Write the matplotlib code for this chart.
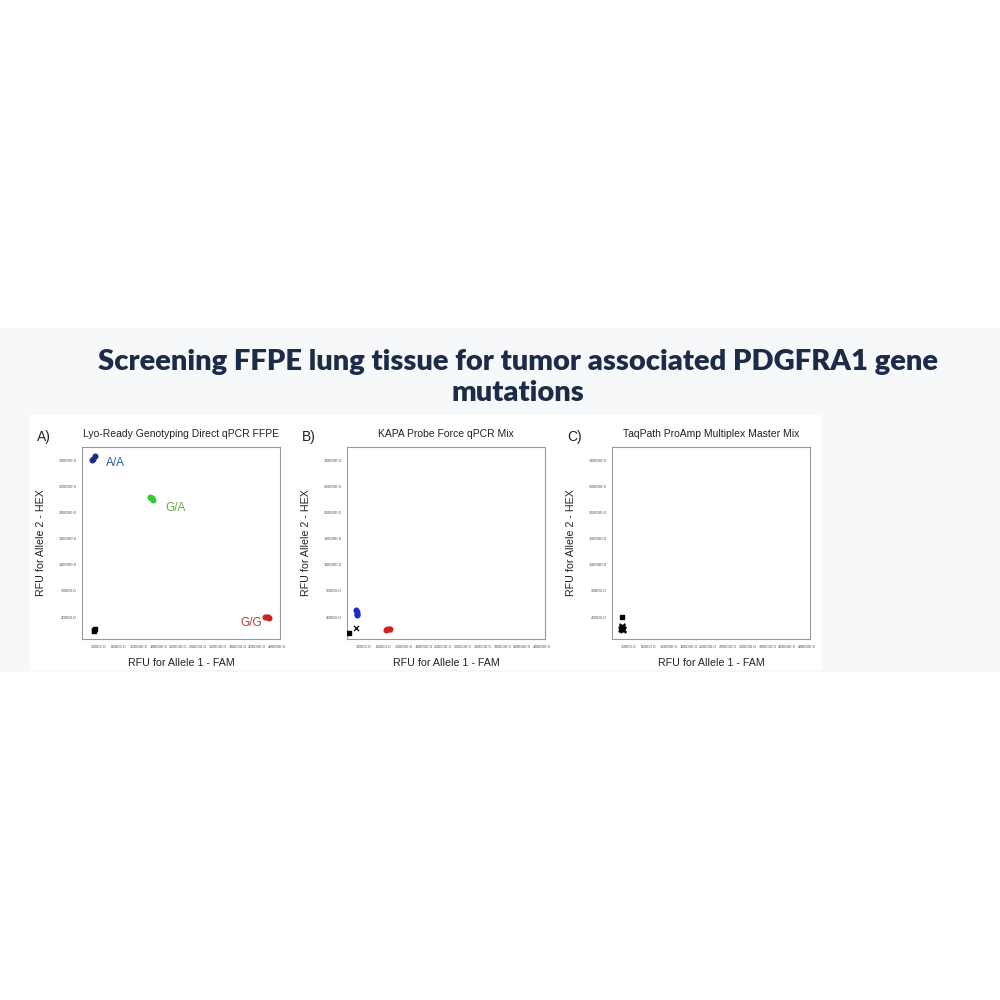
import matplotlib
matplotlib.use("Agg")
import matplotlib.pyplot as plt
from matplotlib.patches import Rectangle

# ---- data ----
panel_letters = ["A)", "B)", "C)"]
panel_titles = ["Lyo-Ready Genotyping Direct qPCR FFPE",
                "KAPA Probe Force qPCR Mix",
                "TaqPath ProAmp Multiplex Master Mix"]
x_ticks = [30000, 80000, 130000, 180000, 230000, 280000, 330000, 380000, 430000, 480000]
y_ticks = [40000, 90000, 140000, 190000, 240000, 290000, 340000]

# Panel A clusters
a_aa_x = [14000, 20000, 15500]
a_aa_y = [341000, 348000, 343000]
a_ga_x = [160000, 165000, 168000, 163000]
a_ga_y = [270000, 267000, 264000, 268000]
a_gg_x = [450000, 455000, 460000, 457000]
a_gg_y = [41000, 40000, 39000, 40500]
a_ntc_x = [17000, 21000, 19000]
a_ntc_y = [13000, 17000, 15000]

# Panel B clusters
b_aa_x = [11000, 13000, 12000, 14000]
b_aa_y = [53000, 50000, 45000, 43000]
b_gg_x = [86000, 90000, 94000, 97000]
b_gg_y = [16000, 17000, 17500, 18000]
b_ntc_x = [-6000]
b_ntc_y = [9000]
b_x_x = [10000]
b_x_y = [19000]

# Panel C clusters
c_sq_x = [12000]
c_sq_y = [40000]
c_ntc_x = [11000, 14000, 16000, 13000, 15000]
c_ntc_y = [17000, 20000, 18000, 22000, 16000]

label_txt = ["A/A", "G/A", "G/G"]
label_x = [72000, 223000, 414000]
label_y = [334000, 248000, 28000]
label_col = ["#2a5c9c", "#66aa44", "#b03c3c"]

plt.rcParams['font.family'] = ['Liberation Sans', 'DejaVu Sans']

fig = plt.figure(figsize=(10, 10), dpi=100)
fig.patch.set_facecolor("white")
# light band
fig.add_artist(Rectangle((0, 1 - 672/1000), 1, (672-328)/1000, transform=fig.transFigure,
                         facecolor="#f7f8f9", edgecolor="none", zorder=0))
fig.add_artist(Rectangle((30/1000, 1 - 670/1000), (822-30)/1000, (670-415)/1000,
                         transform=fig.transFigure, facecolor="white", edgecolor="none", zorder=0))

for txt, yy in [("Screening FFPE lung tissue for tumor associated PDGFRA1 gene", 362),
                ("mutations", 393)]:
    fig.text(0.518, 1 - yy/1000, txt, ha="center", va="center", fontsize=21,
             fontweight="heavy", color="#1b2b48", family=["Lato", "DejaVu Sans"])

lefts = [82, 347, 612]
widths = [198, 198, 198]
top, bottom = 447, 639
axes = []
for i in range(3):
    ax = fig.add_axes([lefts[i]/1000, 1 - bottom/1000, widths[i]/1000, (bottom-top)/1000])
    ax.set_xlim(-12000, 487000)
    ax.set_ylim(-2000, 365000)
    ax.set_xticks(x_ticks)
    ax.set_yticks(y_ticks)
    ax.set_xticklabels([f"{v:.1f}" for v in x_ticks], fontsize=3.2, color="#555555")
    ax.set_yticklabels([f"{v:.1f}" for v in y_ticks], fontsize=3.2, color="#555555")
    ax.tick_params(length=0, pad=4)
    for s in ax.spines.values():
        s.set_color("#999999")
        s.set_linewidth(0.8)
    ax.set_title(panel_titles[i], fontsize=7.5, color="#222222", pad=7)
    ax.set_xlabel("RFU for Allele 1 - FAM", fontsize=7.7, color="#222222", labelpad=7)
    ax.set_ylabel("RFU for Allele 2 - HEX", fontsize=7.7, color="#222222", labelpad=9)
    fig.text((lefts[i] - 45)/1000, 1 - 437/1000, panel_letters[i],
             fontsize=10, color="#222222", va="center", ha="left")
    axes.append(ax)

ax = axes[0]
ax.scatter(a_aa_x, a_aa_y, s=11, color="#1c2a8c", zorder=3)
ax.scatter(a_ga_x, a_ga_y, s=11, color="#33cc33", zorder=3)
ax.scatter(a_gg_x, a_gg_y, s=11, color="#cc2222", zorder=3)
ax.scatter(a_ntc_x, a_ntc_y, s=10, marker="s", color="black", zorder=3)
for t, x, y, c in zip(label_txt, label_x, label_y, label_col):
    ax.text(x, y, t, fontsize=8.5, color=c, ha="center", va="center")

ax = axes[1]
ax.scatter(b_aa_x, b_aa_y, s=11, color="#1c2acc", zorder=3)
ax.scatter(b_gg_x, b_gg_y, s=11, color="#cc2222", zorder=3)
ax.scatter(b_ntc_x, b_ntc_y, s=10, marker="s", color="black", zorder=3)
ax.scatter(b_x_x, b_x_y, s=14, marker="x", color="black", linewidths=0.9, zorder=3)

ax = axes[2]
ax.scatter(c_sq_x, c_sq_y, s=10, marker="s", color="black", zorder=3)
ax.scatter(c_ntc_x, c_ntc_y, s=16, marker="x", color="black", linewidths=1.2, zorder=3)
ax.scatter(c_ntc_x[:2], c_ntc_y[:2], s=8, marker="s", color="black", zorder=3)

fig.savefig("out.png", dpi=100, facecolor=fig.get_facecolor())
